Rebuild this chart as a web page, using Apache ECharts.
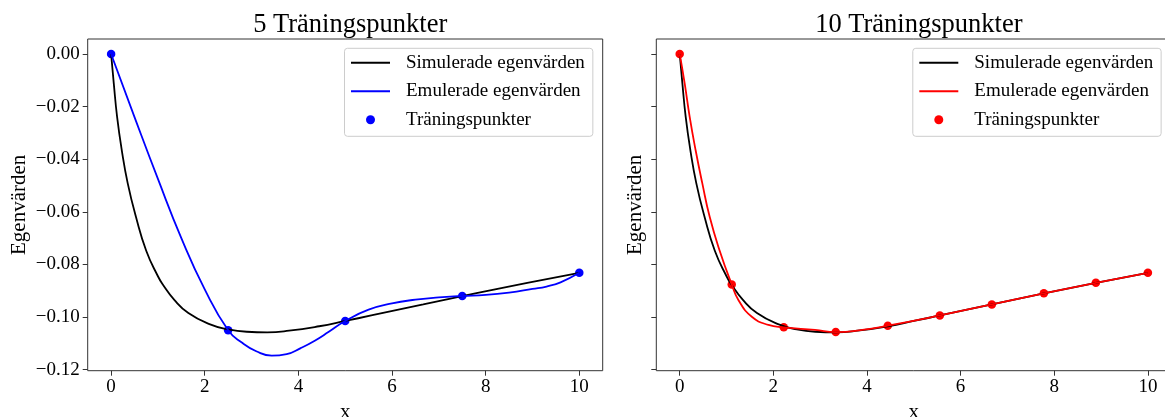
<!DOCTYPE html>
<html>
<head>
<meta charset="utf-8">
<title>Träningspunkter</title>
<script src="https://cdn.jsdelivr.net/npm/echarts@6/dist/echarts.min.js"></script>
<style>
  html, body { margin: 0; padding: 0; overflow: hidden; background: #fff; }
  #chart { width: 1176px; height: 417px; }
</style>
</head>
<body>
<div id="chart"></div>
<script>
// simulated eigenvalues, same curve in both panels
const simX = [0, 0.057, 0.128, 0.228, 0.355, 0.53, 0.75, 1.0, 1.111, 1.35, 1.65, 2.1, 2.5, 2.9, 3.333, 3.8, 4.444, 5.0, 5.556, 6.667, 7.778, 8.889, 10];
const simY = [0, -0.0112, -0.0239, -0.0366, -0.0492, -0.0619, -0.0748, -0.0845, -0.0878, -0.0935, -0.0985, -0.1027, -0.1047, -0.1056, -0.1058, -0.1052, -0.1035, -0.1015, -0.0994, -0.0952, -0.0910, -0.0870, -0.0832];

// emulator trained on 5 points
const emu5X = [0, 0.5, 1.0, 1.5, 2.0, 2.5, 2.8, 3.1, 3.43, 3.75, 4.05, 4.35, 4.65, 5.0, 5.5, 6.0, 6.5, 7.0, 7.5, 8.0, 8.5, 9.0, 9.3, 9.6, 10];
const emu5Y = [0, -0.0240, -0.0475, -0.0700, -0.0895, -0.1050, -0.1098, -0.1130, -0.1147, -0.1141, -0.1118, -0.1090, -0.1056, -0.1015, -0.0972, -0.0948, -0.0934, -0.0925, -0.0920, -0.0916, -0.0907, -0.0893, -0.0884, -0.0868, -0.0832];
const train5X = [0, 2.5, 5.0, 7.5, 10];
const train5Y = [0, -0.1050, -0.1015, -0.0920, -0.0832];

// emulator trained on 10 points
const emu10X = [0, 0.106, 0.213, 0.34, 0.483, 0.64, 0.85, 1.111, 1.256, 1.54, 1.895, 2.222, 2.89, 3.333, 3.9, 4.444, 5.556, 6.667, 7.778, 8.889, 10];
const emu10Y = [0, -0.0112, -0.0239, -0.0366, -0.0492, -0.0619, -0.0746, -0.0876, -0.0936, -0.0999, -0.1030, -0.1039, -0.1049, -0.1057, -0.1049, -0.1033, -0.0994, -0.0952, -0.0910, -0.0870, -0.0832];
const train10X = [0, 1.111, 2.222, 3.333, 4.444, 5.556, 6.667, 7.778, 8.889, 10];
const train10Y = [0, -0.0876, -0.1039, -0.1057, -0.1033, -0.0994, -0.0952, -0.0910, -0.0870, -0.0832];

const xTicks = [0, 2, 4, 6, 8, 10];
const yTicks = [0, -0.02, -0.04, -0.06, -0.08, -0.10, -0.12];

const titles = ['5 Träningspunkter', '10 Träningspunkter'];
const legendLabels = {
  sim: 'Simulerade egenvärden',
  emu: 'Emulerade egenvärden',
  pts: 'Träningspunkter',
};

const FONT = 'Liberation Serif';
const LINE_ICON = 'path://M0,0L40,0L40,2L0,2Z';
const zip = (xs, ys) => xs.map((x, i) => [x, ys[i]]);
const fmtY = (v) => (Math.abs(v) < 1e-9 ? '0.00' : '\u2212' + Math.abs(v).toFixed(2));

const gridLefts = [87.7, 656.3];
const legendLefts = [344.5, 912.8];

const chart = echarts.init(document.getElementById('chart'));

const option = {
  animation: false,
  textStyle: { fontFamily: FONT },
  title: titles.map((t, i) => ({
    text: t,
    left: gridLefts[i] + 257.5,
    top: 6.5,
    textAlign: 'center',
    textStyle: { fontFamily: FONT, fontSize: 26.5, fontWeight: 'normal', color: '#000' },
  })),
  grid: gridLefts.map((l) => ({
    left: l,
    top: 39,
    width: 515,
    height: 331.7,
    show: true,
    borderColor: '#333',
    borderWidth: 1,
    outerBoundsMode: 'none',
  })),
  legend: ['5', '10'].map((k, i) => ({
    orient: 'vertical',
    left: legendLefts[i],
    top: 48.3,
    data: [
      { name: 'sim|' + k, icon: LINE_ICON },
      { name: 'emu|' + k, icon: LINE_ICON },
      { name: 'pts|' + k, icon: 'circle' },
    ],
    formatter: (name) => legendLabels[name.split('|')[0]],
    itemWidth: 39,
    itemHeight: 9,
    itemGap: 9.5,
    padding: [5, 8, 7, 6.5],
    borderColor: '#cccccc',
    borderWidth: 1,
    borderRadius: 3,
    backgroundColor: 'rgba(255,255,255,0.8)',
    selectedMode: false,
    textStyle: { fontFamily: FONT, fontSize: 19, lineHeight: 19, color: '#000', padding: [0, 0, 0, 11] },
  })),
  xAxis: [0, 1].map((i) => ({
    type: 'value',
    gridIndex: i,
    min: -0.5,
    max: 10.5,
    name: 'x',
    nameLocation: 'middle',
    nameGap: 30,
    nameTextStyle: { fontFamily: FONT, fontSize: 21, color: '#000' },
    splitLine: { show: false },
    axisLine: { show: false, onZero: false },
    axisTick: { show: true, length: 5, lineStyle: { color: '#333' }, customValues: xTicks },
    axisLabel: { fontFamily: FONT, fontSize: 19, color: '#000', margin: 7, customValues: xTicks },
  })),
  yAxis: [0, 1].map((i) => ({
    type: 'value',
    gridIndex: i,
    min: -0.1204,
    max: 0.0057,
    name: 'Egenvärden',
    nameLocation: 'middle',
    nameGap: i === 0 ? 58 : 10,
    nameTextStyle: { fontFamily: FONT, fontSize: 21, color: '#000' },
    splitLine: { show: false },
    axisLine: { show: false, onZero: false },
    axisTick: { show: true, length: 5, lineStyle: { color: '#333' }, customValues: yTicks },
    axisLabel: {
      show: i === 0,
      fontFamily: FONT,
      fontSize: 19,
      color: '#000',
      margin: 8,
      customValues: yTicks,
      formatter: fmtY,
    },
  })),
  series: [
    {
      name: 'sim|5', type: 'line', xAxisIndex: 0, yAxisIndex: 0,
      data: zip(simX, simY), symbol: 'none', smooth: 0.5,
      lineStyle: { color: '#000', width: 1.8 }, itemStyle: { color: '#000' },
    },
    {
      name: 'emu|5', type: 'line', xAxisIndex: 0, yAxisIndex: 0,
      data: zip(emu5X, emu5Y), symbol: 'none', smooth: 0.5,
      lineStyle: { color: '#0000ff', width: 1.8 }, itemStyle: { color: '#0000ff' },
    },
    {
      name: 'pts|5', type: 'scatter', xAxisIndex: 0, yAxisIndex: 0,
      data: zip(train5X, train5Y), symbol: 'circle', symbolSize: 8.5,
      itemStyle: { color: '#0000ff', opacity: 1 },
    },
    {
      name: 'sim|10', type: 'line', xAxisIndex: 1, yAxisIndex: 1,
      data: zip(simX, simY), symbol: 'none', smooth: 0.5,
      lineStyle: { color: '#000', width: 1.8 }, itemStyle: { color: '#000' },
    },
    {
      name: 'emu|10', type: 'line', xAxisIndex: 1, yAxisIndex: 1,
      data: zip(emu10X, emu10Y), symbol: 'none', smooth: 0.5,
      lineStyle: { color: '#ff0000', width: 1.8 }, itemStyle: { color: '#ff0000' },
    },
    {
      name: 'pts|10', type: 'scatter', xAxisIndex: 1, yAxisIndex: 1,
      data: zip(train10X, train10Y), symbol: 'circle', symbolSize: 8.5,
      itemStyle: { color: '#ff0000', opacity: 1 },
    },
  ],
};

chart.setOption(option);
</script>
</body>
</html>
